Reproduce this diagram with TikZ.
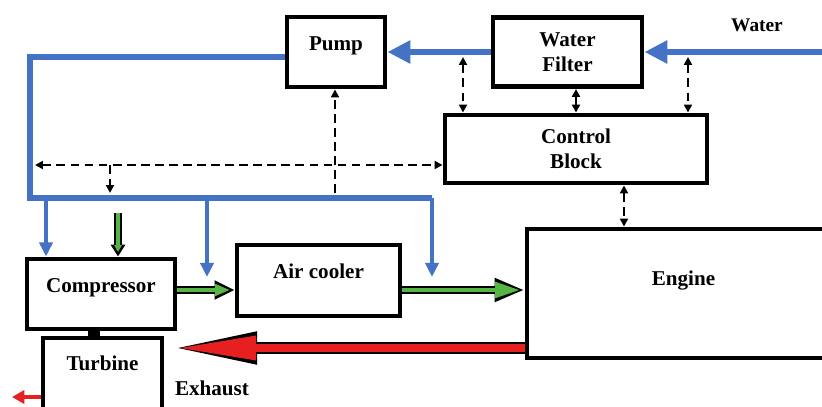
\documentclass[tikz,border=0pt]{standalone}
\usepackage{fontspec}
\setmainfont{Liberation Serif}
\usepackage{tikz}
\usetikzlibrary{arrows.meta, positioning}
\definecolor{pipeblue}{RGB}{68,114,196}
\definecolor{airgreen}{RGB}{86,182,68}
\definecolor{exhred}{RGB}{230,32,32}

\begin{document}
\begin{tikzpicture}[
  font=\fontsize{12pt}{14pt}\selectfont\bfseries,
  >={Triangle[length=4.5pt,width=4.5pt]},
  blk/.style={rectangle, draw=black, line width=2.8pt, align=center},
  up/.style={text height=8pt, text depth=#1},
  water/.style={draw=pipeblue, line width=3.4pt, -{Triangle[length=13pt,width=12.5pt]}},
  pipe/.style={draw=pipeblue, line width=3.2pt},
  drop/.style={draw=pipeblue, line width=2pt, -{Triangle[length=8pt,width=7.4pt]}},
  sig/.style={draw=black, line width=1.1pt, dash pattern=on 5pt off 3pt},
  air/.style 2 args={draw=airgreen, line width=2.6pt, shorten >=2.6pt, -{Triangle[length=#1 1.2,width=#2 1.6]},
    preaction={draw=black, line width=5pt, shorten >=0pt, -{Triangle[length=#1 1.2,width=#2 1.6]}}},
  gas/.style 2 args={draw=exhred, line width=4pt, shorten >=2.5pt, -{Triangle[length=#1 1.2,width=#2 1.6]},
    preaction={draw=black, line width=6.5pt, shorten >=0pt, -{Triangle[length=#1 1.2,width=#2 1.6]}}}
]
  \useasboundingbox (0,0) rectangle (16.44,-8.14);
  \node[blk, minimum width=1.96cm, minimum height=1.40cm, up=10.2pt] (pump) at (6.72,-1.04) {Pump};
  \node[blk, minimum width=2.98cm, minimum height=1.38cm] (filter) at (11.35,-1.04) {Water\\Filter};
  \node[blk, minimum width=5.24cm, minimum height=1.36cm] (ctrl) at (11.52,-2.98) {Control\\Block};
  \node[blk, minimum width=2.96cm, minimum height=1.40cm, up=10.2pt] (comp) at (2.02,-5.88) {Compressor};
  \node[blk, minimum width=3.26cm, minimum height=1.42cm, up=10.8pt] (cooler) at (6.37,-5.61) {Air cooler};
  \node[blk, minimum width=6.26cm, minimum height=2.58cm, up=17.6pt] (engine) at (13.67,-5.87) {Engine};
  \node[blk, minimum width=2.38cm, minimum height=1.44cm, up=12.5pt] (turb) at (2.05,-7.48) {Turbine};
  \node[font=\fontsize{11pt}{13pt}\selectfont\bfseries] (wlbl) at (15.14,-0.50) {Water};
  \node (exlbl) at (4.24,-7.76) {Exhaust};
  % water circuit
  \coordinate (win) at (16.44,-1.04);
  \coordinate (hl) at (0.60,-3.96);
  \coordinate (hr) at (8.64,-3.96);
  \draw[water] (win) -- (filter.east);
  \draw[water] (filter.west) -- (pump.east);
  \draw[pipe] ([yshift=-0.1cm]pump.west) -| (hl) -- (hr);
  \coordinate (d1) at (0.92,-3.96);
  \coordinate (d2) at (4.14,-3.96);
  \coordinate (t2) at (4.14,-5.54);
  \coordinate (t3) at (8.64,-5.54);
  \draw[drop] (d1) -- (d1 |- comp.north);
  \draw[drop] (d2) -- (t2);
  \draw[drop] (hr) -- (t3);
  % air path
  \coordinate (gin) at (2.36,-4.26);
  \coordinate (g1) at (0,-5.80);
  \draw[air={0.8pt}{0pt}] (gin) -- (gin |- comp.north);
  \draw[air={5.3pt}{2.2pt}] (comp.east |- g1) -- (cooler.west |- g1);
  \draw[air={11pt}{4.5pt}] (cooler.east |- g1) -- (engine.west |- g1);
  % exhaust
  \coordinate (ex1) at (3.46,-6.96);
  \coordinate (ex2) at (0.24,-7.94);
  \coordinate (sh) at (1.88,0);
  \draw[gas={40pt}{6.6pt}] (engine.west |- ex1) -- (ex1);
  \draw[exhred, line width=2.8pt, -{Triangle[length=7pt,width=7.5pt]}] (turb.west |- ex2) -- (ex2);
  \draw[black, line width=6.8pt] (comp.south -| sh) -- (turb.north -| sh);
  % control signals
  \coordinate (s1) at (9.26,-1.14);
  \coordinate (s2) at (13.76,-1.14);
  \coordinate (s3) at (12.48,0);
  \coordinate (s4) at (0.70,-3.30);
  \coordinate (s5) at (2.20,-3.30);
  \coordinate (s6) at (2.20,-3.86);
  \coordinate (s7) at (6.70,-3.86);
  \draw[sig, <->] (s1) -- (s1 |- ctrl.north);
  \draw[sig, <->] (ctrl.north |- filter.south) -- (ctrl.north);
  \draw[sig, <->] (s2) -- (s2 |- ctrl.north);
  \draw[sig, <->] (s3 |- ctrl.south) -- (s3 |- engine.north);
  \draw[sig, <->] (s4) -- (s4 -| ctrl.west);
  \draw[sig, ->] (s5) -- (s6);
  \draw[sig, ->] (s7) -- (s7 |- pump.south);
\end{tikzpicture}
\end{document}
